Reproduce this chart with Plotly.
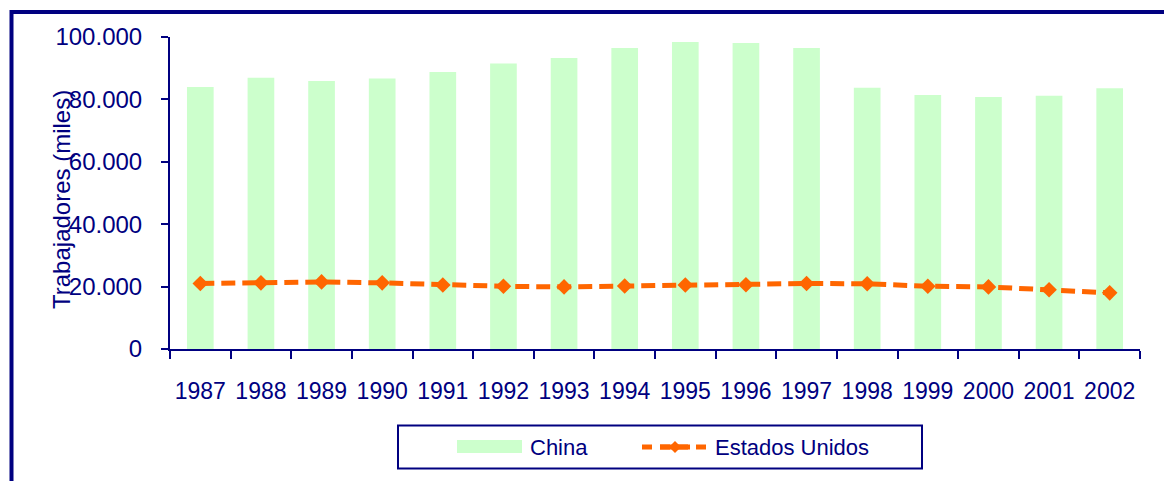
import plotly.graph_objects as go

# Series data (thousands of workers)
years = ["1987", "1988", "1989", "1990", "1991", "1992", "1993", "1994",
         "1995", "1996", "1997", "1998", "1999", "2000", "2001", "2002"]
china = [84000, 86900, 85900, 86700, 88800, 91500, 93300, 96500,
         98400, 98100, 96500, 83700, 81400, 80800, 81200, 83600]
usa = [21000, 21200, 21500, 21200, 20500, 20100, 19900, 20200,
       20500, 20600, 21000, 20900, 20100, 19900, 19000, 18000]
y_ticks = [0, 20000, 40000, 60000, 80000, 100000]

NAVY = "#000080"
GREEN = "#CCFFCC"
ORANGE = "#FF6600"
FONT = "Arial, Liberation Sans, sans-serif"

W, H = 1164, 481
ML, MR, MT, MB = 170, 24, 37, 132
PW, PH = W - ML - MR, H - MT - MB


def fx(px):
    return (px - ML) / PW


def fy(py):
    return (H - MB - py) / PH


fig = go.Figure()
fig.add_trace(go.Bar(
    x=years, y=china, name="China", marker=dict(color=GREEN, line=dict(width=0)),
    width=0.44, showlegend=False,
))
fig.add_trace(go.Scatter(
    x=years, y=usa, name="Estados Unidos", mode="lines+markers",
    line=dict(color=ORANGE, width=5, dash="14px,7px"),
    marker=dict(symbol="diamond", size=12, color=ORANGE),
    showlegend=False,
))

shapes = []
annotations = []

# Outer frame (open on the right and bottom)
shapes.append(dict(type="rect", xref="paper", yref="paper",
                   x0=fx(11.5), x1=fx(W + 20), y0=fy(12), y1=fy(H + 20),
                   line=dict(color=NAVY, width=4), fillcolor="rgba(0,0,0,0)",
                   layer="above"))

# Legend box
shapes.append(dict(type="rect", xref="paper", yref="paper",
                   x0=fx(398), x1=fx(922), y0=fy(425.5), y1=fy(468.5),
                   line=dict(color=NAVY, width=2), fillcolor="white"))
# China swatch
shapes.append(dict(type="rect", xref="paper", yref="paper",
                   x0=fx(457), x1=fx(522), y0=fy(440), y1=fy(453),
                   line=dict(width=0), fillcolor=GREEN))
# Estados Unidos swatch: dashed line + diamond
shapes.append(dict(type="line", xref="paper", yref="paper",
                   x0=fx(642), x1=fx(708), y0=fy(447), y1=fy(447),
                   line=dict(color=ORANGE, width=5, dash="10px,8px")))
cx, cy = 675, 447
shapes.append(dict(type="path", xref="paper", yref="paper",
                   path=(f"M {fx(cx - 6)} {fy(cy)} L {fx(cx)} {fy(cy - 6)} "
                         f"L {fx(cx + 6)} {fy(cy)} L {fx(cx)} {fy(cy + 6)} Z"),
                   line=dict(color=ORANGE, width=0), fillcolor=ORANGE))
shapes.append(dict(type="line", xref="paper", yref="paper",
                   x0=fx(660), x1=fx(690), y0=fy(447), y1=fy(447),
                   line=dict(color=ORANGE, width=5)))

annotations.append(dict(text="China", xref="paper", yref="paper",
                        x=fx(528), y=fy(447), xanchor="left", yanchor="middle",
                        showarrow=False, font=dict(family=FONT, size=22, color=NAVY)))
annotations.append(dict(text="Estados Unidos", xref="paper", yref="paper",
                        x=fx(713), y=fy(447), xanchor="left", yanchor="middle",
                        showarrow=False, font=dict(family=FONT, size=22, color=NAVY)))

# Y axis title
annotations.append(dict(text="Trabajadores (miles)", xref="paper", yref="paper",
                        x=fx(62), y=fy(200), xanchor="center", yanchor="middle",
                        textangle=-90, showarrow=False,
                        font=dict(family=FONT, size=24, color=NAVY)))

fig.update_layout(
    width=W, height=H,
    margin=dict(l=ML, r=MR, t=MT, b=MB, pad=0, autoexpand=False),
    paper_bgcolor="white", plot_bgcolor="white",
    separators=",.",
    font=dict(family=FONT, color=NAVY, size=24),
    showlegend=False,
    bargap=0.56,
    shapes=shapes,
    annotations=annotations,
)
fig.update_xaxes(
    type="category", range=[-0.5, len(years) - 0.5],
    showline=True, linecolor=NAVY, linewidth=2,
    ticks="outside", tickson="boundaries", ticklen=8, tickwidth=2, tickcolor=NAVY,
    ticklabelstandoff=20, tickangle=0, automargin=False,
    tickfont=dict(family=FONT, size=23, color=NAVY),
    showgrid=False, zeroline=False,
)
fig.update_yaxes(
    range=[0, 100000], tickvals=y_ticks, tickformat=",d",
    showline=True, linecolor=NAVY, linewidth=2,
    ticks="outside", ticklen=7, tickwidth=2, tickcolor=NAVY,
    ticklabelstandoff=14, automargin=False,
    tickfont=dict(family=FONT, size=24, color=NAVY),
    showgrid=False, zeroline=False,
)

fig.write_html("out.html")
